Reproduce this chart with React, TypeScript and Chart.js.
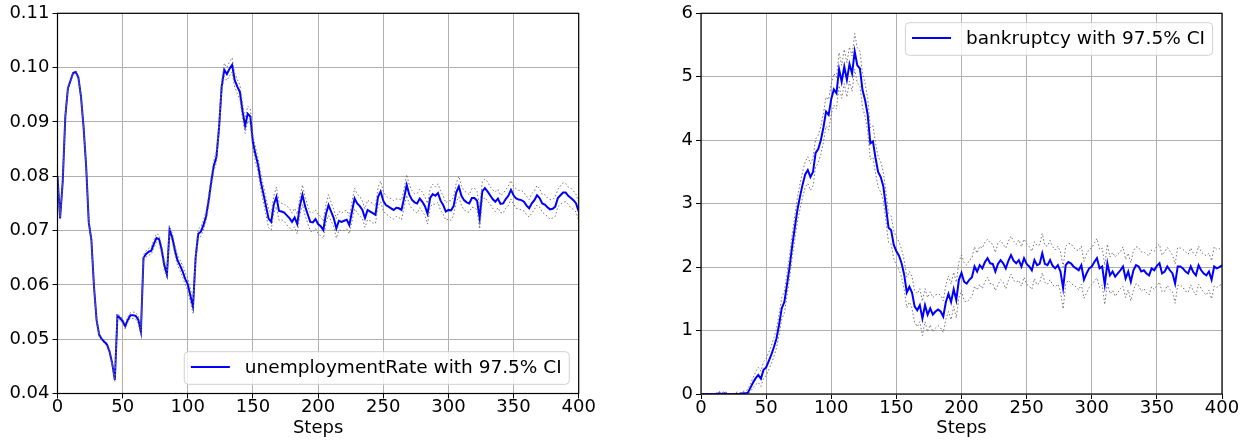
import React, { useEffect, useRef } from 'react';
import { Chart, registerables } from 'chart.js';

Chart.register(...registerables);

// ---------- data ----------
const STEP = 2; // samples every 2 steps, 0..400
const X_TICKS = [0, 50, 100, 150, 200, 250, 300, 350, 400];
const UNEMP_Y_TICKS = [0.04, 0.05, 0.06, 0.07, 0.08, 0.09, 0.1, 0.11];
const BANK_Y_TICKS = [0, 1, 2, 3, 4, 5, 6];
const UNEMP_LABEL = 'unemploymentRate with 97.5% CI';
const BANK_LABEL = 'bankruptcy with 97.5% CI';
const X_TITLE = 'Steps';

const UNEMP_MEAN = [
  0.0800, 0.0723, 0.0790, 0.0910, 0.0962, 0.0976, 0.0990, 0.0992, 0.0982, 0.0947,
  0.0891, 0.0818, 0.0715, 0.0683, 0.0597, 0.0535, 0.0508, 0.0500, 0.0495, 0.0490,
  0.0477, 0.0455, 0.0425, 0.0543, 0.0539, 0.0533, 0.0524, 0.0536, 0.0544, 0.0544,
  0.0543, 0.0536, 0.0514, 0.0650, 0.0657, 0.0661, 0.0663, 0.0676, 0.0686, 0.0684,
  0.0664, 0.0636, 0.0619, 0.0701, 0.0688, 0.0665, 0.0646, 0.0636, 0.0625, 0.0611,
  0.0601, 0.0580, 0.0560, 0.0650, 0.0694, 0.0698, 0.0710, 0.0726, 0.0755, 0.0790,
  0.0820, 0.0836, 0.0890, 0.0965, 0.0996, 0.0988, 0.0998, 0.1005, 0.0977, 0.0965,
  0.0955, 0.0920, 0.0893, 0.0915, 0.0910, 0.0862, 0.0840, 0.0820, 0.0790, 0.0768,
  0.0745, 0.0722, 0.0716, 0.0748, 0.0762, 0.0736, 0.0735, 0.0733, 0.0728, 0.0723,
  0.0716, 0.0724, 0.0712, 0.0745, 0.0766, 0.0745, 0.0730, 0.0716, 0.0715, 0.0721,
  0.0712, 0.0708, 0.0701, 0.0730, 0.0747, 0.0735, 0.0723, 0.0704, 0.0718, 0.0716,
  0.0718, 0.0720, 0.0710, 0.0735, 0.0759, 0.0750, 0.0745, 0.0738, 0.0723, 0.0738,
  0.0735, 0.0732, 0.0729, 0.0762, 0.0772, 0.0755, 0.0747, 0.0744, 0.0741, 0.0738,
  0.0742, 0.0741, 0.0738, 0.0760, 0.0784, 0.0766, 0.0757, 0.0752, 0.0750, 0.0759,
  0.0753, 0.0745, 0.0731, 0.0760, 0.0767, 0.0764, 0.0769, 0.0755, 0.0747, 0.0735,
  0.0738, 0.0737, 0.0745, 0.0770, 0.0781, 0.0764, 0.0756, 0.0752, 0.0750, 0.0760,
  0.0760, 0.0755, 0.0723, 0.0772, 0.0778, 0.0772, 0.0765, 0.0758, 0.0753, 0.0759,
  0.0749, 0.0750, 0.0758, 0.0764, 0.0775, 0.0765, 0.0759, 0.0757, 0.0756, 0.0753,
  0.0746, 0.0741, 0.0750, 0.0756, 0.0765, 0.0760, 0.0750, 0.0748, 0.0743, 0.0739,
  0.0740, 0.0744, 0.0760, 0.0765, 0.0770, 0.0770, 0.0764, 0.0760, 0.0756, 0.0750,
  0.0735,
];

// CI half-width, in units of 0.0001
const UNEMP_CI = [
  2, 2, 2, 2, 2, 2, 2, 2, 2, 2,
  2, 2, 2, 2, 2, 3, 3, 3, 3, 3,
  3, 3, 3, 4, 4, 4, 5, 5, 5, 6,
  6, 7, 7, 5, 6, 6, 7, 7, 8, 8,
  8, 9, 8, 8, 8, 9, 9, 10, 10, 11,
  11, 12, 12, 10, 9, 9, 9, 9, 10, 10,
  10, 10, 9, 10, 12, 12, 13, 13, 13, 13,
  13, 14, 14, 14, 14, 13, 13, 13, 14, 15,
  16, 17, 15, 16, 18, 17, 15, 16, 17, 18,
  16, 17, 18, 16, 18, 17, 16, 17, 18, 17,
  17, 18, 16, 17, 19, 17, 16, 18, 17, 16,
  18, 17, 16, 18, 19, 17, 18, 16, 17, 18,
  17, 18, 16, 17, 19, 18, 17, 16, 18, 17,
  16, 17, 18, 17, 19, 18, 17, 16, 18, 17,
  18, 17, 19, 17, 18, 16, 17, 18, 17, 16,
  17, 18, 16, 17, 19, 18, 17, 18, 16, 17,
  18, 17, 20, 18, 17, 18, 16, 17, 18, 17,
  16, 18, 17, 18, 17, 16, 18, 17, 18, 17,
  17, 16, 18, 17, 18, 17, 16, 18, 17, 18,
  17, 18, 16, 17, 18, 17, 16, 18, 17, 16,
  17,
];

const BANK_MEAN = [
  0, 0, 0, 0, 0, 0, 0, 0.01, 0, 0.01,
  0, 0, 0, 0, 0, 0, 0.01, 0.01, 0.02, 0.10,
  0.18, 0.25, 0.30, 0.24, 0.38, 0.42, 0.52, 0.62, 0.74, 0.88,
  1.10, 1.35, 1.45, 1.72, 2.00, 2.33, 2.62, 2.90, 3.11, 3.30,
  3.46, 3.53, 3.42, 3.50, 3.80, 3.86, 4.00, 4.20, 4.45, 4.40,
  4.65, 4.80, 4.74, 5.12, 4.92, 5.16, 4.95, 5.20, 5.05, 5.40,
  5.18, 5.13, 4.79, 4.63, 4.40, 3.95, 3.98, 3.72, 3.50, 3.42,
  3.27, 2.95, 2.62, 2.58, 2.35, 2.25, 2.18, 2.06, 1.88, 1.60,
  1.69, 1.60, 1.38, 1.32, 1.40, 1.19, 1.40, 1.25, 1.35, 1.25,
  1.30, 1.33, 1.30, 1.22, 1.45, 1.58, 1.45, 1.65, 1.48, 1.80,
  1.91, 1.77, 1.74, 1.80, 1.84, 2.01, 1.93, 2.03, 1.98, 2.08,
  2.14, 2.06, 2.05, 1.93, 2.05, 2.11, 2.06, 1.98, 2.10, 2.19,
  2.10, 2.06, 2.11, 2.01, 2.14, 2.05, 2.01, 1.95, 2.11, 2.03,
  2.05, 2.22, 2.05, 2.03, 2.11, 2.02, 1.98, 2.03, 1.93, 1.67,
  2.03, 2.08, 2.06, 2.01, 1.98, 1.95, 2.03, 1.80, 1.90, 1.98,
  2.01, 2.08, 2.14, 1.98, 2.01, 1.72, 2.06, 1.87, 1.93, 1.85,
  1.90, 1.95, 2.01, 1.82, 1.93, 1.77, 1.95, 2.03, 2.01, 1.93,
  1.95, 1.90, 1.87, 1.98, 1.95, 2.02, 2.06, 1.90, 1.93, 2.01,
  1.95, 1.90, 1.74, 2.01, 2.01, 1.98, 1.93, 1.90, 2.01, 1.92,
  1.87, 2.03, 1.95, 1.90, 1.87, 1.93, 1.80, 2.01, 1.98, 2.00,
  2.03,
];

// CI half-width, in units of 0.01
const BANK_CI = [
  0, 0, 0, 0, 0, 0, 2, 3, 2, 3,
  2, 0, 0, 2, 3, 2, 3, 4, 5, 6,
  8, 10, 12, 12, 13, 13, 14, 14, 15, 15,
  16, 17, 17, 18, 18, 18, 19, 19, 20, 20,
  20, 21, 21, 22, 22, 22, 22, 23, 23, 24,
  24, 25, 25, 26, 26, 27, 27, 27, 28, 28,
  28, 27, 27, 26, 26, 25, 25, 24, 24, 24,
  23, 23, 23, 22, 22, 22, 22, 22, 23, 24,
  24, 25, 25, 26, 26, 27, 26, 27, 26, 27,
  26, 25, 26, 25, 27, 28, 28, 27, 28, 28,
  28, 30, 29, 31, 30, 31, 29, 30, 32, 31,
  30, 32, 31, 30, 33, 31, 30, 32, 31, 30,
  31, 30, 32, 31, 30, 32, 31, 30, 29, 31,
  30, 31, 29, 30, 31, 30, 29, 30, 31, 33,
  30, 29, 31, 30, 29, 31, 30, 29, 31, 30,
  29, 30, 31, 30, 29, 31, 30, 29, 30, 31,
  30, 29, 31, 30, 29, 30, 31, 29, 30, 31,
  29, 30, 31, 29, 30, 31, 30, 29, 31, 30,
  30, 29, 31, 30, 29, 30, 31, 30, 29, 30,
  31, 30, 29, 30, 31, 29, 30, 31, 30, 29,
  30,
];

// ---------- styling ----------
const FONT_FAMILY = "'DejaVu Sans', sans-serif";
const MEAN_COLOR = '#0000ff';
const CI_COLOR = 'rgba(110,110,110,0.95)';
const GRID_COLOR = '#b0b0b0';

const spinePlugin = {
  id: 'spines',
  afterDatasetsDraw(chart: any) {
    const { ctx, chartArea: a } = chart;
    ctx.save();
    ctx.strokeStyle = '#000';
    ctx.lineWidth = 1.2;
    ctx.strokeRect(a.left, a.top, a.right - a.left, a.bottom - a.top);
    ctx.restore();
  },
};

const legendPlugin = {
  id: 'mplLegend',
  afterDraw(chart: any, _args: any, opts: any) {
    const { ctx, chartArea: a } = chart;
    ctx.save();
    ctx.font = `18.5px ${FONT_FAMILY}`;
    const tw = ctx.measureText(opts.text).width;
    const w = 6.6 + 39 + 15 + tw + 7.6;
    const h = 32.6;
    const x = a.right - 9.4 - w;
    const y = opts.corner === 'br' ? a.bottom - 9.2 - h : a.top + 9.4;
    const r = 4;
    ctx.beginPath();
    ctx.moveTo(x + r, y);
    ctx.lineTo(x + w - r, y);
    ctx.arcTo(x + w, y, x + w, y + r, r);
    ctx.lineTo(x + w, y + h - r);
    ctx.arcTo(x + w, y + h, x + w - r, y + h, r);
    ctx.lineTo(x + r, y + h);
    ctx.arcTo(x, y + h, x, y + h - r, r);
    ctx.lineTo(x, y + r);
    ctx.arcTo(x, y, x + r, y, r);
    ctx.closePath();
    ctx.fillStyle = 'rgba(255,255,255,0.8)';
    ctx.fill();
    ctx.strokeStyle = '#d0d0d0';
    ctx.lineWidth = 1;
    ctx.stroke();
    ctx.beginPath();
    ctx.moveTo(x + 6.6, y + h / 2 - 1);
    ctx.lineTo(x + 45.6, y + h / 2 - 1);
    ctx.strokeStyle = MEAN_COLOR;
    ctx.lineWidth = 2;
    ctx.stroke();
    ctx.fillStyle = '#000';
    ctx.textBaseline = 'middle';
    ctx.textAlign = 'left';
    ctx.fillText(opts.text, x + 60.6, y + h / 2);
    ctx.restore();
  },
};

type PanelSpec = {
  mean: number[];
  ci: number[];
  ciUnit: number;
  clampZero: boolean;
  yTicks: number[];
  yDecimals: number;
  yAxisWidth: number;
  xAxisHeight: number;
  padRight: number;
  label: string;
  corner: 'br' | 'tr';
};

function buildConfig(p: PanelSpec): any {
  const meanPts = p.mean.map((v, i) => ({ x: i * STEP, y: v }));
  const upPts = p.mean.map((v, i) => ({ x: i * STEP, y: v + p.ci[i] * p.ciUnit }));
  const loPts = p.mean.map((v, i) => {
    const lo = v - p.ci[i] * p.ciUnit;
    return { x: i * STEP, y: p.clampZero ? Math.max(0, lo) : lo };
  });
  const ciStyle = {
    borderColor: CI_COLOR,
    borderWidth: 1,
    borderDash: [1.5, 2.2],
    pointRadius: 0,
    tension: 0,
    fill: false,
    order: 0,
  };
  const tickFont = { family: FONT_FAMILY, size: 18, lineHeight: 1 };
  return {
    type: 'line',
    data: {
      datasets: [
        { ...ciStyle, data: upPts },
        { ...ciStyle, data: loPts },
        {
          data: meanPts,
          borderColor: MEAN_COLOR,
          borderWidth: 2,
          pointRadius: 0,
          tension: 0,
          fill: false,
          order: 1,
        },
      ],
    },
    options: {
      responsive: false,
      animation: false,
      devicePixelRatio: 1,
      events: [],
      layout: { padding: { top: 13.3, right: p.padRight, left: 0, bottom: 0 } },
      plugins: {
        legend: { display: false },
        tooltip: { enabled: false },
        mplLegend: { text: p.label, corner: p.corner },
      },
      scales: {
        x: {
          type: 'linear',
          min: 0,
          max: 400,
          afterBuildTicks: (s: any) => {
            s.ticks = X_TICKS.map((v) => ({ value: v }));
          },
          afterFit: (s: any) => {
            s.height = p.xAxisHeight;
          },
          border: { display: false },
          grid: {
            color: GRID_COLOR,
            lineWidth: 1,
            drawTicks: true,
            tickLength: 5,
            tickColor: '#000',
            tickWidth: 1,
          },
          ticks: {
            color: '#000',
            font: tickFont,
            padding: 0,
            maxRotation: 0,
            autoSkip: false,
            callback: (v: any) => String(v),
          },
          title: {
            display: true,
            text: X_TITLE,
            color: '#000',
            font: { family: FONT_FAMILY, size: 18 },
            padding: { top: 0, bottom: 2 },
          },
        },
        y: {
          type: 'linear',
          min: p.yTicks[0],
          max: p.yTicks[p.yTicks.length - 1],
          afterBuildTicks: (s: any) => {
            s.ticks = p.yTicks.map((v) => ({ value: v }));
          },
          afterFit: (s: any) => {
            s.width = p.yAxisWidth;
          },
          border: { display: false },
          grid: {
            color: GRID_COLOR,
            lineWidth: 1,
            drawTicks: true,
            tickLength: 5,
            tickColor: '#000',
            tickWidth: 1,
          },
          ticks: {
            color: '#000',
            font: tickFont,
            padding: 3,
            autoSkip: false,
            callback: (v: any) => Number(v).toFixed(p.yDecimals),
          },
        },
      },
    },
    plugins: [spinePlugin, legendPlugin],
  };
}

function Panel({ left, spec }: { left: number; spec: PanelSpec }) {
  const ref = useRef<HTMLCanvasElement>(null);
  useEffect(() => {
    const chart = new Chart(ref.current as HTMLCanvasElement, buildConfig(spec));
    return () => chart.destroy();
  }, []);
  return (
    <canvas
      ref={ref}
      width={627}
      height={441}
      style={{ position: 'absolute', left, top: 0, width: 627, height: 441 }}
    />
  );
}

const LEFT_SPEC: PanelSpec = {
  mean: UNEMP_MEAN,
  ci: UNEMP_CI,
  ciUnit: 0.0001,
  clampZero: false,
  yTicks: UNEMP_Y_TICKS,
  yDecimals: 2,
  yAxisWidth: 57.5,
  xAxisHeight: 47.5,
  padRight: 48.3,
  label: UNEMP_LABEL,
  corner: 'br',
};

const RIGHT_SPEC: PanelSpec = {
  mean: BANK_MEAN,
  ci: BANK_CI,
  ciUnit: 0.01,
  clampZero: true,
  yTicks: BANK_Y_TICKS,
  yDecimals: 0,
  yAxisWidth: 74,
  xAxisHeight: 47,
  padRight: 32,
  label: BANK_LABEL,
  corner: 'tr',
};

export default function App() {
  return (
    <div
      style={{
        position: 'absolute',
        left: 0,
        top: 0,
        width: 1254,
        height: 441,
        background: '#fff',
        overflow: 'hidden',
      }}
    >
      <Panel left={0} spec={LEFT_SPEC} />
      <Panel left={627} spec={RIGHT_SPEC} />
    </div>
  );
}
